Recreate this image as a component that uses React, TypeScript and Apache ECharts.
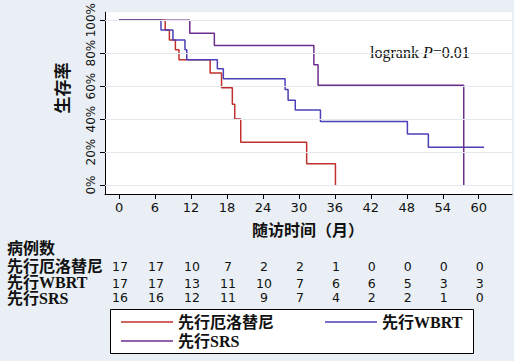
import React, { useEffect, useRef } from "react";
import * as echarts from "echarts";

// ---- data ----
const timeTicks = [0, 6, 12, 18, 24, 30, 36, 42, 48, 54, 60];
const survTicks = [0, 0.2, 0.4, 0.6, 0.8, 1];
const groupNames = ["先行厄洛替尼", "先行WBRT", "先行SRS"];

const erlotinibTime = [0, 7.7, 8.4, 9.4, 10.0, 15.2, 17.1, 18.9, 19.3, 20.3, 31.3, 36.1];
const erlotinibSurv = [1, 0.94, 0.88, 0.82, 0.76, 0.68, 0.59, 0.49, 0.4, 0.26, 0.13, 0];

const wbrtTime = [0, 7.0, 9.0, 11.0, 11.3, 16.4, 17.4, 27.7, 28.2, 29.4, 33.6, 48.1, 51.6, 60.9];
const wbrtSurv = [1, 0.94, 0.88, 0.82, 0.76, 0.705, 0.645, 0.58, 0.515, 0.455, 0.385, 0.31, 0.23, 0.23];

const srsTime = [0, 11.8, 15.9, 32.5, 33.2, 57.5];
const srsSurv = [1, 0.92, 0.846, 0.73, 0.605, 0];

const riskErlotinib = [17, 17, 10, 7, 2, 2, 1, 0, 0, 0, 0];
const riskWBRT = [17, 17, 13, 11, 10, 7, 6, 6, 5, 3, 3];
const riskSRS = [16, 16, 12, 11, 9, 7, 4, 2, 2, 1, 0];

const colors = ["#c0302c", "#4b40b6", "#6c2e8c"];

const cjk = "'Liberation Serif','Noto Sans CJK SC'";
const sans = "'DejaVu Sans'";

export default function App() {
  const ref = useRef<HTMLDivElement>(null);
  useEffect(() => {
    if (!ref.current) return;
    const chart = echarts.init(ref.current, null, { renderer: "svg" });
    const mk = (t: number[], s: number[]) => t.map((x, i) => [x, s[i]]);
    const seriesData = [mk(erlotinibTime, erlotinibSurv), mk(wbrtTime, wbrtSurv), mk(srsTime, srsSurv)];
    const option: any = {
      animation: false,
      backgroundColor: "#e9eff4",
      grid: { left: 105, right: 2, top: 10, bottom: 167, show: true, backgroundColor: "#ffffff", borderWidth: 0 },
      xAxis: {
        type: "value",
        min: -2.34,
        max: 65.55,
        axisLine: { show: true, onZero: false, lineStyle: { color: "#000", width: 1 } },
        axisTick: { show: true, customValues: timeTicks, length: 5, lineStyle: { color: "#000" } },
        axisLabel: { customValues: timeTicks, margin: 7, fontSize: 13, fontFamily: sans, color: "#111" },
        splitLine: { show: false },
      },
      yAxis: {
        type: "value",
        min: -0.054,
        max: 1.048,
        axisLine: { show: true, onZero: false, lineStyle: { color: "#000", width: 1 } },
        axisTick: { show: true, customValues: survTicks, length: 5, lineStyle: { color: "#000" } },
        axisLabel: {
          customValues: survTicks,
          formatter: (v: number) => Math.round(v * 100) + "%",
          rotate: 90,
          align: "center",
          verticalAlign: "bottom",
          margin: 8,
          fontSize: 12,
          fontFamily: sans,
          color: "#111",
          showMaxLabel: true,
          showMinLabel: true,
          hideOverlap: false,
        },
        splitLine: { show: false },
      },
      series: [
        {
          type: "line",
          name: "grid",
          data: [],
          z: 1,
          silent: true,
          markLine: {
            silent: true,
            symbol: ["none", "none"],
            label: { show: false },
            lineStyle: { color: "#e3e9ef", width: 1, type: "solid" },
            data: survTicks.map((v) => ({ yAxis: v })),
          },
        },
        ...groupNames.map((n, i) => ({
          type: "line",
          name: n,
          step: "end",
          symbol: "none",
          z: 3,
          data: seriesData[i],
          lineStyle: { color: colors[i], width: 1.5 },
          itemStyle: { color: colors[i] },
        })),
      ],
      legend: [
        {
          data: [groupNames[0], groupNames[1]],
          left: 121,
          top: 314,
          padding: 0,
          itemWidth: 52,
          itemHeight: 1.6,
          itemGap: 51,
          icon: "rect",
          textStyle: { fontSize: 16, fontFamily: cjk, fontWeight: "bold", color: "#111" },
        },
        {
          data: [groupNames[2]],
          left: 121,
          top: 333,
          padding: 0,
          itemWidth: 52,
          itemHeight: 1.6,
          icon: "rect",
          textStyle: { fontSize: 16, fontFamily: cjk, fontWeight: "bold", color: "#111" },
        },
      ],
    };
    chart.setOption(option);

    const risks = [riskErlotinib, riskWBRT, riskSRS];
    const rowY = [266.5, 283, 297];
    const labelY = [266, 282.5, 298];
    const g: any[] = [
      {
        type: "rect",
        z: -1,
        shape: { x: 110.5, y: 309.5, width: 363, height: 44 },
        style: { fill: "#ffffff", stroke: "#000", lineWidth: 1 },
      },
      {
        type: "text",
        x: 63,
        y: 88,
        rotation: Math.PI / 2,
        style: { text: "生存率", fontSize: 17, fontFamily: cjk, fontWeight: "bold", fill: "#111", align: "center", verticalAlign: "middle" },
      },
      {
        type: "text",
        x: 308,
        y: 230,
        style: { text: "随访时间（月）", fontSize: 16, fontFamily: cjk, fontWeight: "bold", fill: "#111", align: "center", verticalAlign: "middle" },
      },
      {
        type: "text",
        x: 370,
        y: 52,
        style: {
          text: "{a|logrank }{b|P}{a|=0.01}",
          verticalAlign: "middle",
          rich: {
            a: { fontSize: 16, fontFamily: "'Liberation Serif'", fill: "#111" },
            b: { fontSize: 16, fontFamily: "'Liberation Serif'", fontStyle: "italic", fill: "#111" },
          },
        },
      },
      {
        type: "text",
        x: 7,
        y: 248.5,
        style: { text: "病例数", fontSize: 16, lineHeight: 15, fontFamily: cjk, fontWeight: "bold", fill: "#111", verticalAlign: "middle" },
      },
    ];
    groupNames.forEach((n, r) => {
      g.push({
        type: "text",
        x: 7,
        y: labelY[r],
        style: { text: n, fontSize: 16, lineHeight: 15, fontFamily: cjk, fontWeight: "bold", fill: "#111", verticalAlign: "middle" },
      });
      risks[r].forEach((v, i) => {
        const px = chart.convertToPixel({ xAxisIndex: 0 }, timeTicks[i]) as number;
        g.push({
          type: "text",
          x: px + 1,
          y: rowY[r],
          style: { text: String(v), fontSize: 12.5, lineHeight: 12, fontFamily: sans, fill: "#111", align: "center", verticalAlign: "middle" },
        });
      });
    });
    chart.setOption({ graphic: g });
    return () => chart.dispose();
  }, []);
  return <div ref={ref} style={{ width: 514, height: 361, position: "absolute", left: 0, top: 0 }} />;
}
